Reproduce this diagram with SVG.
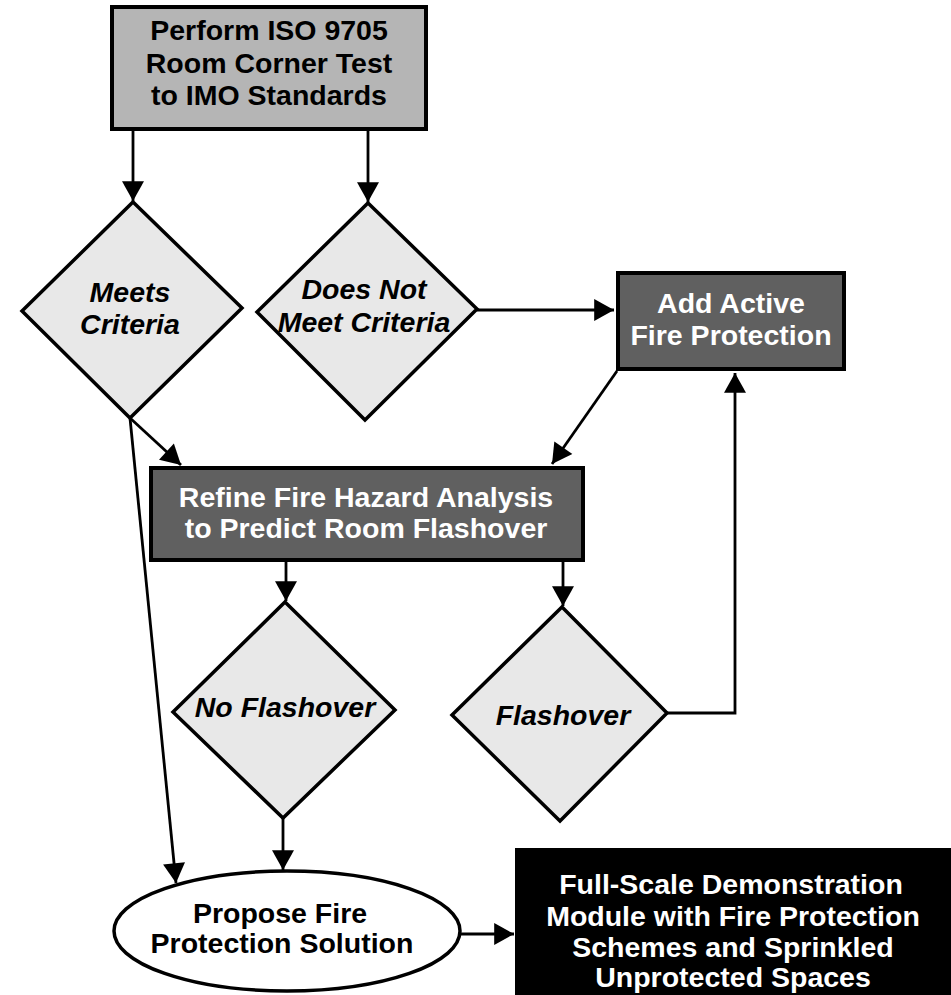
<svg xmlns="http://www.w3.org/2000/svg" width="951" height="995" viewBox="0 0 951 995">
<style>
text{font-family:"Liberation Sans",Arial,sans-serif;font-weight:bold;font-size:28.5px;text-anchor:middle}
.it{font-style:italic}
.w{fill:#ffffff}
.k{fill:#000000}
.dia{fill:#e8e8e8;stroke:#000;stroke-width:3.5;stroke-linejoin:miter}
.box{stroke:#000;stroke-width:4}
.ln{fill:none;stroke:#000;stroke-width:2.8}
</style>
<defs>
<marker id="ah" markerUnits="userSpaceOnUse" markerWidth="22" markerHeight="22" viewBox="0 0 18 20" refX="18" refY="10" orient="auto">
<path d="M0,0 L18,10 L0,20 Z" fill="#000"/>
</marker>
</defs>
<rect width="951" height="995" fill="#fff"/>
<g id="connectors">
<line class="ln" x1="133" y1="131" x2="133" y2="201" marker-end="url(#ah)"/>
<line class="ln" x1="368" y1="131" x2="368" y2="202" marker-end="url(#ah)"/>
<line class="ln" x1="477" y1="310" x2="614" y2="310" marker-end="url(#ah)"/>
<line class="ln" x1="617" y1="371" x2="552" y2="464" marker-end="url(#ah)"/>
<line class="ln" x1="130" y1="418" x2="181" y2="465" marker-end="url(#ah)"/>
<line class="ln" x1="130" y1="418" x2="176" y2="883" marker-end="url(#ah)"/>
<line class="ln" x1="286" y1="561" x2="286" y2="601" marker-end="url(#ah)"/>
<line class="ln" x1="563" y1="561" x2="563" y2="606" marker-end="url(#ah)"/>
<polyline class="ln" points="667,713 735,713 735,373" marker-end="url(#ah)"/>
<line class="ln" x1="283" y1="818" x2="283" y2="870" marker-end="url(#ah)"/>
<line class="ln" x1="461" y1="934" x2="514" y2="934" marker-end="url(#ah)"/>
</g>
<g id="n_perform">
<rect class="box" x="112" y="7" width="314" height="122" fill="#b5b5b5"/>
<text class="k" x="269" y="40">Perform ISO 9705</text>
<text class="k" x="269" y="73">Room Corner Test</text>
<text class="k" x="269" y="105">to IMO Standards</text>
</g>
<g id="n_meets">
<polygon class="dia" points="133,202 242,308 130,418 22,311"/>
<text class="k it" x="130" y="302">Meets</text>
<text class="k it" x="130" y="334">Criteria</text>
</g>
<g id="n_doesnot">
<polygon class="dia" points="368,203 477,309 365,420 257,312"/>
<text class="k it" x="364" y="299">Does Not</text>
<text class="k it" x="364" y="332">Meet Criteria</text>
</g>
<g id="n_active">
<rect class="box" x="618" y="273" width="226" height="96" fill="#606060"/>
<text class="w" x="731" y="313">Add Active</text>
<text class="w" x="731" y="345">Fire Protection</text>
</g>
<g id="n_refine">
<rect class="box" x="151" y="468" width="432" height="92" fill="#606060"/>
<text class="w" x="366" y="507">Refine Fire Hazard Analysis</text>
<text class="w" x="366" y="538">to Predict Room Flashover</text>
</g>
<g id="n_noflash">
<polygon class="dia" points="285,602 395,710 283,818 173,712"/>
<text class="k it" x="285" y="717">No Flashover</text>
</g>
<g id="n_flash">
<polygon class="dia" points="562,607 667,713 560,821 452,715"/>
<text class="k it" x="563" y="725">Flashover</text>
</g>
<g id="n_propose">
<ellipse cx="287" cy="931" rx="173" ry="60" fill="#fff" stroke="#000" stroke-width="3.5"/>
<text class="k" x="280" y="923">Propose Fire</text>
<text class="k" x="282" y="953">Protection Solution</text>
</g>
<g id="n_fullscale">
<rect x="515" y="848" width="436" height="147" fill="#000"/>
<text class="w" x="731" y="894">Full-Scale Demonstration</text>
<text class="w" x="733" y="926">Module with Fire Protection</text>
<text class="w" x="733" y="957">Schemes and Sprinkled</text>
<text class="w" x="733" y="987">Unprotected Spaces</text>
</g>
</svg>
